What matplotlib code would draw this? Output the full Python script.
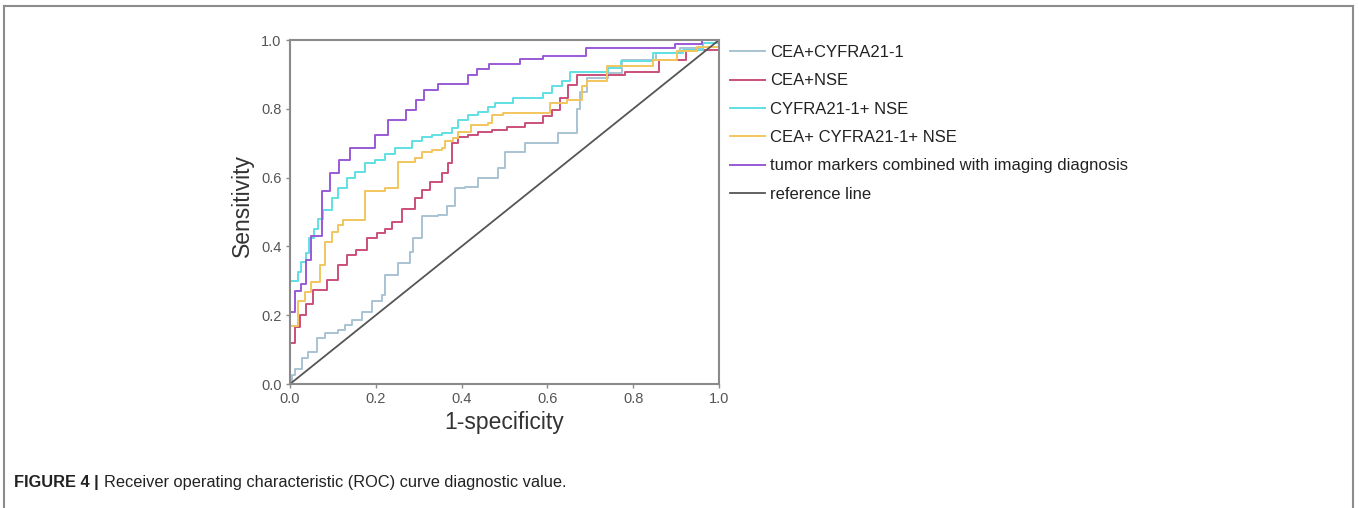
import matplotlib
matplotlib.use("Agg")
from matplotlib import pyplot as plt
from matplotlib.lines import Line2D

plt.rcParams['font.family'] = ['Liberation Sans', 'DejaVu Sans']

# ROC step points (1-specificity, sensitivity)
gray_fpr = [0, 0.004, 0.012, 0.027, 0.043, 0.062, 0.082, 0.113, 0.128, 0.144, 0.167, 0.19, 0.214, 0.221, 0.252, 0.28, 0.287, 0.307, 0.346, 0.365, 0.385, 0.408, 0.439, 0.486, 0.501, 0.548, 0.625, 0.668, 0.676, 0.692, 0.742, 0.773, 0.854, 0.909, 0.963, 1.0]
gray_tpr = [0, 0.026, 0.045, 0.075, 0.094, 0.133, 0.147, 0.157, 0.172, 0.186, 0.21, 0.24, 0.259, 0.317, 0.351, 0.385, 0.424, 0.487, 0.491, 0.516, 0.569, 0.574, 0.598, 0.627, 0.675, 0.70, 0.729, 0.80, 0.85, 0.889, 0.904, 0.942, 0.961, 0.976, 0.99, 1.0]

red_fpr = [0, 0, 0.012, 0.023, 0.037, 0.054, 0.086, 0.113, 0.132, 0.155, 0.179, 0.202, 0.221, 0.237, 0.26, 0.291, 0.307, 0.326, 0.354, 0.369, 0.377, 0.392, 0.416, 0.439, 0.47, 0.505, 0.548, 0.59, 0.61, 0.629, 0.649, 0.668, 0.781, 0.859, 0.924, 1.0]
red_tpr = [0, 0.12, 0.167, 0.2, 0.234, 0.273, 0.302, 0.346, 0.375, 0.39, 0.424, 0.438, 0.452, 0.472, 0.51, 0.54, 0.564, 0.588, 0.613, 0.641, 0.70, 0.719, 0.724, 0.734, 0.738, 0.748, 0.758, 0.778, 0.797, 0.83, 0.869, 0.898, 0.908, 0.942, 0.97, 1.0]

cyan_fpr = [0, 0, 0.018, 0.026, 0.037, 0.044, 0.057, 0.066, 0.078, 0.097, 0.113, 0.132, 0.152, 0.175, 0.198, 0.221, 0.245, 0.284, 0.307, 0.33, 0.354, 0.377, 0.392, 0.416, 0.439, 0.461, 0.478, 0.52, 0.59, 0.61, 0.633, 0.653, 0.742, 0.772, 0.846, 0.917, 0.963, 1.0]
cyan_tpr = [0, 0.30, 0.326, 0.356, 0.38, 0.424, 0.452, 0.481, 0.506, 0.54, 0.569, 0.598, 0.617, 0.641, 0.651, 0.67, 0.685, 0.705, 0.719, 0.724, 0.729, 0.743, 0.767, 0.782, 0.792, 0.804, 0.816, 0.83, 0.845, 0.865, 0.88, 0.908, 0.92, 0.938, 0.961, 0.97, 0.99, 1.0]

yellow_fpr = [0, 0, 0.019, 0.035, 0.05, 0.07, 0.082, 0.097, 0.113, 0.124, 0.175, 0.221, 0.252, 0.291, 0.307, 0.33, 0.354, 0.361, 0.381, 0.392, 0.423, 0.462, 0.47, 0.497, 0.606, 0.645, 0.68, 0.692, 0.738, 0.847, 0.901, 0.948, 1.0]
yellow_tpr = [0, 0.17, 0.24, 0.268, 0.297, 0.346, 0.414, 0.443, 0.462, 0.477, 0.561, 0.569, 0.646, 0.657, 0.675, 0.68, 0.685, 0.705, 0.715, 0.734, 0.753, 0.758, 0.782, 0.787, 0.816, 0.826, 0.865, 0.88, 0.923, 0.942, 0.967, 0.981, 1.0]

purple_fpr = [0, 0, 0.012, 0.025, 0.037, 0.05, 0.074, 0.093, 0.115, 0.14, 0.197, 0.229, 0.27, 0.293, 0.313, 0.346, 0.414, 0.437, 0.464, 0.537, 0.59, 0.69, 0.897, 0.96, 1.0]
purple_tpr = [0, 0.21, 0.27, 0.29, 0.36, 0.43, 0.56, 0.614, 0.651, 0.685, 0.724, 0.767, 0.797, 0.827, 0.855, 0.871, 0.898, 0.915, 0.93, 0.945, 0.954, 0.976, 0.988, 1.0, 1.0]

ref_x = [0, 1]
ref_y = [0, 1]

labels = ["CEA+CYFRA21-1", "CEA+NSE", "CYFRA21-1+ NSE", "CEA+ CYFRA21-1+ NSE",
          "tumor markers combined with imaging diagnosis", "reference line"]
colors = ['#a9c3d3', '#cc4f7c', '#5fe0e3', '#f2c55c', '#9a5ad6', '#555555']
ticks = [0.0, 0.2, 0.4, 0.6, 0.8, 1.0]

fig = plt.figure(figsize=(13.59, 5.08), dpi=100)
ax = fig.add_axes([290/1359, 1-384/508, 429/1359, 344/508])

series = [(gray_fpr, gray_tpr), (red_fpr, red_tpr), (cyan_fpr, cyan_tpr),
          (yellow_fpr, yellow_tpr), (purple_fpr, purple_tpr)]
for (x, y), c, lab in zip(series, colors[:5], labels[:5]):
    ax.step(x, y, where='post', color=c, lw=1.4, label=lab)
ax.plot(ref_x, ref_y, color=colors[5], lw=1.3, label=labels[5])

ax.set_xlim(0, 1)
ax.set_ylim(0, 1)
ax.set_xticks(ticks)
ax.set_yticks(ticks)
ax.set_xticklabels(["%.1f" % t for t in ticks])
ax.set_yticklabels(["%.1f" % t for t in ticks])
for s in ax.spines.values():
    s.set_color('#8a8a8a')
    s.set_linewidth(1.5)
ax.tick_params(direction='out', length=3, width=1, color='#8a8a8a',
               labelsize=10.5, labelcolor='#555555', pad=3)
ax.set_xlabel("1-specificity", fontsize=16.5, color='#333333', labelpad=3)
ax.set_ylabel("Sensitivity", fontsize=16.5, color='#333333')
ax.yaxis.set_label_coords(-0.084, 0.52)

ax.legend(loc='upper left', bbox_to_anchor=(730/1359, 1-45/508),
          bbox_transform=fig.transFigure, frameon=False, fontsize=12,
          handlelength=2.1, handletextpad=0.3, labelspacing=0.8,
          borderpad=0, borderaxespad=0, labelcolor='#222222')

# outer frame (top, left, right)
fc = '#8c8c8c'
fig.add_artist(Line2D([4/1359, 1353/1359], [1-6/508, 1-6/508], color=fc, lw=1.5))
fig.add_artist(Line2D([4/1359, 4/1359], [0, 1-6/508], color=fc, lw=1.5))
fig.add_artist(Line2D([1353/1359, 1353/1359], [0, 1-6/508], color=fc, lw=1.5))

# caption
cap_y = 1-482/508
t1 = fig.text(14/1359, cap_y, "FIGURE 4 |", fontsize=11.8, fontweight='bold',
              va='center', color='#222222')
fig.canvas.draw()
bb = t1.get_window_extent()
fig.text((bb.x1 + 5)/1359, cap_y, "Receiver operating characteristic (ROC) curve diagnostic value.",
         fontsize=11.8, va='center', color='#222222')

fig.savefig("out.png", dpi=100)
